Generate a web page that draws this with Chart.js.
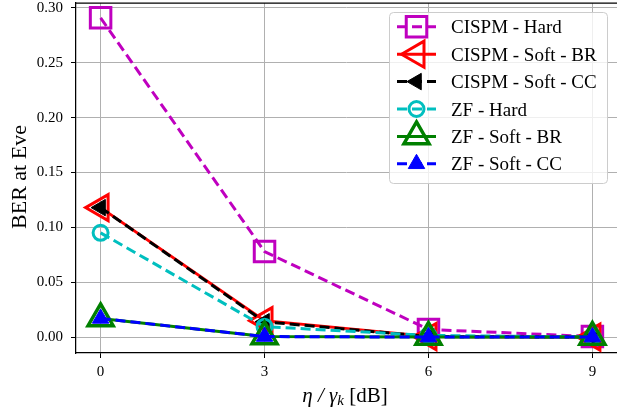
<!DOCTYPE html>
<html>
<head>
<meta charset="utf-8">
<script src="https://cdn.jsdelivr.net/npm/chart.js@4.4.1/dist/chart.umd.min.js"></script>
<style>
  html, body { margin: 0; padding: 0; background: #fff; }
  #wrap { width: 617px; height: 412px; }
</style>
</head>
<body>
<div id="wrap"><canvas id="berChart" width="617" height="412"></canvas></div>
<script>
// eta / gamma_k in dB
const snrDb = [0, 3, 6, 9];
const xTicks = [0, 3, 6, 9];
const yTicks = [0, 0.05, 0.10, 0.15, 0.20, 0.25, 0.30];

const cispmHard = [0.291, 0.078, 0.007, 0.0005];
const cispmSoftBr = [0.118, 0.015, 0.0005, 0];
const cispmSoftCc = [0.118, 0.014, 0.0005, 0];
const zfHard = [0.095, 0.0095, 0.0015, 0];
const zfSoftBr = [0.017, 0.0005, 0, 0];
const zfSoftCc = [0.017, 0.0005, 0, 0];

const serif = "'Liberation Serif', 'Times New Roman', serif";

function pts(values) {
    return snrDb.map((x, i) => ({ x: x, y: values[i] }));
}

function series(label, values, color, opts) {
    return Object.assign({
        label: label,
        data: pts(values),
        borderColor: color,
        backgroundColor: color,
        pointBorderColor: color,
        pointBackgroundColor: 'rgba(0,0,0,0)',
        borderWidth: 3,
        pointBorderWidth: 3,
        pointHoverRadius: 0,
        tension: 0,
        clip: false
    }, opts);
}

const dash = [10, 5];
const datasets = [
    series('CISPM - Hard', cispmHard, '#bf00bf',
        { borderDash: dash, pointStyle: 'rect', pointRadius: 14.5 }),
    series('CISPM - Soft - BR', cispmSoftBr, '#ff0000',
        { pointStyle: 'triangle', pointRotation: -90, pointRadius: 15 }),
    series('CISPM - Soft - CC', cispmSoftCc, '#000000',
        { borderDash: dash, pointStyle: 'triangle', pointRotation: -90, pointRadius: 9.5,
          pointBackgroundColor: '#000000', pointBorderWidth: 1 }),
    series('ZF - Hard', zfHard, '#00bfbf',
        { borderDash: dash, pointStyle: 'circle', pointRadius: 7.5 }),
    series('ZF - Soft - BR', zfSoftBr, '#008000',
        { pointStyle: 'triangle', pointRadius: 14.5, pointBorderWidth: 3.5 }),
    series('ZF - Soft - CC', zfSoftCc, '#0000ff',
        { borderDash: dash, pointStyle: 'triangle', pointRadius: 9.5,
          pointBackgroundColor: '#0000ff', pointBorderWidth: 1 })
];
// later series sit on top, like the plotting order
datasets.forEach((d, i) => { d.order = datasets.length - i; });

// frame top line, axis titles and the boxed legend
const decorations = {
    id: 'decorations',
    afterDraw(chart) {
        const ctx = chart.ctx;
        const area = chart.chartArea;
        ctx.save();

        ctx.strokeStyle = '#000';
        ctx.lineWidth = 1.25;
        ctx.setLineDash([]);
        ctx.beginPath();
        ctx.moveTo(area.left, area.top);
        ctx.lineTo(area.right, area.top);
        ctx.stroke();

        // x title: eta / gamma_k [dB]
        ctx.fillStyle = '#000';
        ctx.textBaseline = 'alphabetic';
        ctx.textAlign = 'left';
        const parts = [
            { t: '\u03b7 / \u03b3', f: 'italic 21px ' + serif, dy: 0 },
            { t: 'k', f: 'italic 15px ' + serif, dy: 3 },
            { t: ' [dB]', f: '21px ' + serif, dy: 0 }
        ];
        let total = 0;
        parts.forEach(p => { ctx.font = p.f; p.w = ctx.measureText(p.t).width; total += p.w; });
        let x = 345 - total / 2;
        parts.forEach(p => { ctx.font = p.f; ctx.fillText(p.t, x, 402 + p.dy); x += p.w; });

        // y title
        ctx.save();
        ctx.translate(25.5, 177);
        ctx.rotate(-Math.PI / 2);
        ctx.textAlign = 'center';
        ctx.font = '22px ' + serif;
        ctx.fillText('BER at Eve', 0, 0);
        ctx.restore();

        // legend box
        const bx = 389.5, by = 12.5, bw = 218, bh = 171, r = 4;
        ctx.beginPath();
        ctx.moveTo(bx + r, by);
        ctx.arcTo(bx + bw, by, bx + bw, by + bh, r);
        ctx.arcTo(bx + bw, by + bh, bx, by + bh, r);
        ctx.arcTo(bx, by + bh, bx, by, r);
        ctx.arcTo(bx, by, bx + bw, by, r);
        ctx.closePath();
        ctx.fillStyle = 'rgba(255,255,255,0.8)';
        ctx.fill();
        ctx.strokeStyle = '#cccccc';
        ctx.lineWidth = 1;
        ctx.stroke();

        chart.data.datasets.forEach((d, i) => {
            const cy = 26.8 + i * 27.4;
            ctx.strokeStyle = d.borderColor;
            ctx.lineWidth = d.borderWidth;
            ctx.setLineDash(d.borderDash || []);
            ctx.beginPath();
            ctx.moveTo(397, cy);
            ctx.lineTo(436, cy);
            ctx.stroke();
            ctx.setLineDash([]);
            ctx.fillStyle = d.pointBackgroundColor;
            ctx.strokeStyle = d.pointBorderColor;
            ctx.lineWidth = d.pointBorderWidth;
            Chart.helpers.drawPoint(ctx, {
                pointStyle: d.pointStyle,
                rotation: d.pointRotation || 0,
                radius: d.pointRadius,
                borderWidth: d.pointBorderWidth
            }, 416.5, cy);
            ctx.fillStyle = '#000';
            ctx.font = '19px ' + serif;
            ctx.textAlign = 'left';
            ctx.textBaseline = 'alphabetic';
            ctx.fillText(d.label, 451, cy + 6.6);
        });
        ctx.restore();
    }
};

new Chart(document.getElementById('berChart'), {
    type: 'line',
    data: { datasets: datasets },
    options: {
        responsive: false,
        animation: false,
        devicePixelRatio: 1,
        layout: { autoPadding: false, padding: { left: 0, right: 0, top: 3, bottom: 0 } },
        plugins: {
            legend: { display: false },
            tooltip: { enabled: false }
        },
        scales: {
            x: {
                type: 'linear',
                min: -0.45,
                max: 9.45,
                afterBuildTicks: s => { s.ticks = xTicks.map(v => ({ value: v })); },
                afterFit: s => { s.height = 59; s.paddingLeft = 0; s.paddingRight = 0; },
                ticks: {
                    color: '#000',
                    font: { family: serif, size: 15 },
                    padding: 5,
                    maxRotation: 0
                },
                grid: { color: '#b0b0b0', lineWidth: 1, tickColor: '#000', tickLength: 5 },
                border: { color: '#000', width: 1.25 }
            },
            y: {
                min: -0.0145,
                max: 0.3045,
                afterBuildTicks: s => { s.ticks = yTicks.map(v => ({ value: v })); },
                afterFit: s => { s.width = 76; s.paddingTop = 0; s.paddingBottom = 0; },
                ticks: {
                    color: '#000',
                    font: { family: serif, size: 15 },
                    padding: 8,
                    callback: v => v.toFixed(2)
                },
                grid: { color: '#b0b0b0', lineWidth: 1, tickColor: '#000', tickLength: 5 },
                border: { color: '#000', width: 1.25 }
            }
        }
    },
    plugins: [decorations]
});
</script>
</body>
</html>
